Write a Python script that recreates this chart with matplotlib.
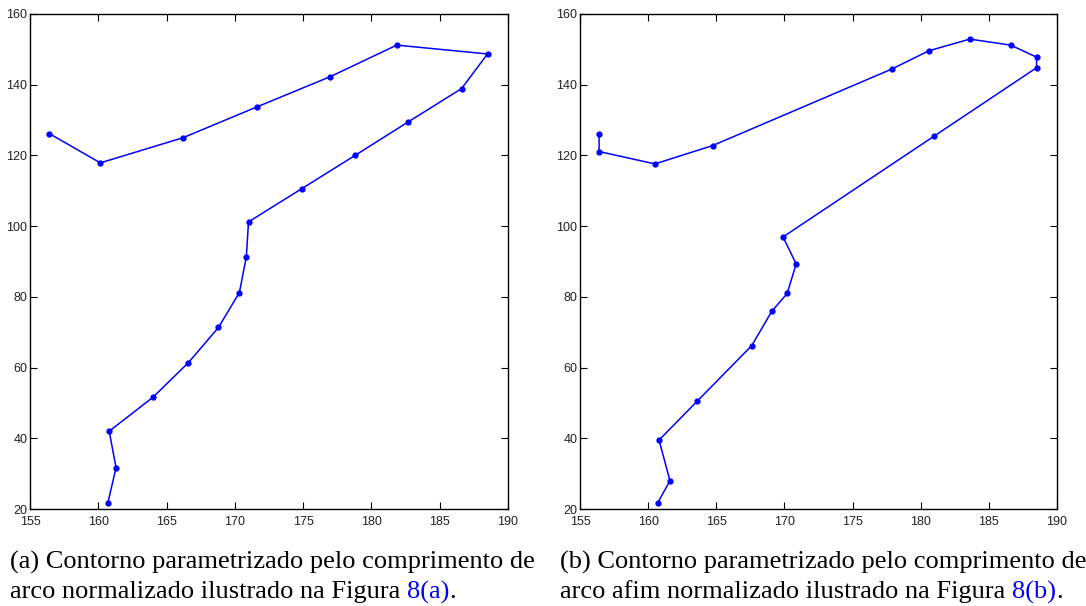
import matplotlib
matplotlib.use('Agg')
import matplotlib.pyplot as plt

# contour (a): arc-length parametrisation
xa = [156.4, 160.15, 166.2, 171.6, 177.0, 181.85, 188.5, 186.6, 182.7, 178.8,
      174.9, 171.0, 170.84, 170.33, 168.8, 166.6, 164.0, 160.8, 161.3, 160.7]
ya = [126.2, 117.9, 125.0, 133.7, 142.3, 151.2, 148.7, 138.9, 129.5, 120.0,
      110.6, 101.2, 91.3, 81.2, 71.35, 61.4, 51.6, 42.0, 31.7, 21.7]

# contour (b): affine arc-length parametrisation
xb = [156.4, 156.4, 160.5, 164.74, 177.86, 180.6, 183.6, 186.6, 188.5, 188.5,
      181.0, 169.9, 170.86, 170.2, 169.07, 167.6, 163.6, 160.8, 161.6, 160.7]
yb = [126.2, 121.1, 117.6, 122.8, 144.4, 149.6, 152.9, 151.2, 147.8, 144.8,
      125.5, 96.95, 89.3, 80.95, 75.9, 66.2, 50.5, 39.5, 28.0, 21.7]

xticks = [155, 160, 165, 170, 175, 180, 185, 190]
yticks = [20, 40, 60, 80, 100, 120, 140, 160]

captions = [
    ("(a) Contorno parametrizado pelo comprimento de",
     "arco normalizado ilustrado na Figura ", "8(a)"),
    ("(b) Contorno parametrizado pelo comprimento de",
     "arco afim normalizado ilustrado na Figura ", "8(b)"),
]

fig = plt.figure(figsize=(10.86, 6.06), dpi=100)
W, H = 1086, 606
boxes = [(30, 508), (580, 1057)]
top, bottom = 14, 509

tick_font = ['Liberation Sans Narrow', 'Liberation Sans', 'DejaVu Sans']

for (l, r), x, y in zip(boxes, [xa, xb], [ya, yb]):
    ax = fig.add_axes([l / W, 1 - bottom / H, (r - l) / W, (bottom - top) / H])
    ax.plot(x, y, '-', color='#0000ff', lw=1.1, marker='o', ms=3.5)
    ax.set_xlim(155, 190)
    ax.set_ylim(20, 160)
    ax.set_xticks(xticks)
    ax.set_yticks(yticks)
    ax.tick_params(direction='in', top=True, right=True, length=5, width=0.8,
                   labelsize=9)
    ax.tick_params(axis='x', pad=5)
    ax.tick_params(axis='y', pad=2)
    for lab in ax.get_xticklabels() + ax.get_yticklabels():
        lab.set_family(tick_font)
        lab.set_color('#222222')
    for s in ax.spines.values():
        s.set_linewidth(1.0)

fig.canvas.draw()
renderer = fig.canvas.get_renderer()
fs = 19
starts = [10, 560]
for x0, (line1, line2, ref) in zip(starts, captions):
    fig.text(x0 / W, 1 - 562 / H, line1, family='Liberation Serif', fontsize=fs,
             va='center', ha='left')
    t = fig.text(x0 / W, 1 - 592 / H, line2, family='Liberation Serif',
                 fontsize=fs, va='center', ha='left')
    bb = t.get_window_extent(renderer)
    t2 = fig.text(bb.x1 / W, 1 - 592 / H, ref, family='Liberation Serif',
                  fontsize=fs, va='center', ha='left', color='#0000ff')
    bb2 = t2.get_window_extent(renderer)
    fig.text(bb2.x1 / W, 1 - 592 / H, '.', family='Liberation Serif',
             fontsize=fs, va='center', ha='left')

fig.savefig('out.png', dpi=100)
